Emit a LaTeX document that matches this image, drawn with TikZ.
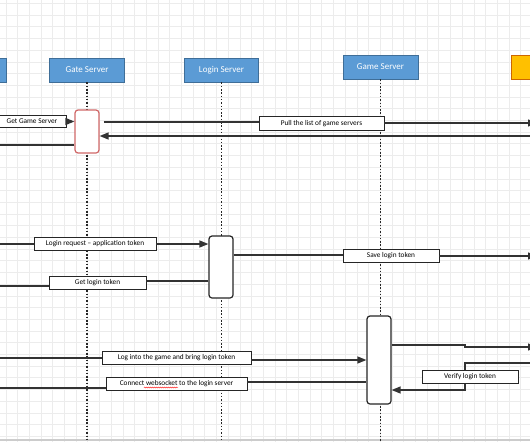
\documentclass[tikz,border=0pt]{standalone}
\usepackage{fontspec}
\setmainfont{Carlito}
\usepackage{xcolor}
\usepackage{tikz}
\usetikzlibrary{arrows.meta,positioning,calc,decorations.pathmorphing}
\definecolor{hdrblue}{HTML}{5B9BD5}
\definecolor{hdredge}{HTML}{3F6E98}
\definecolor{hdrorange}{HTML}{FFC000}
\definecolor{gridgray}{HTML}{ECECEC}
\definecolor{actred}{HTML}{D06868}
\tikzset{
  actor/.style={rectangle, draw=hdredge, fill=hdrblue, line width=0.9pt,
                text=white, font=\fontsize{9}{10}\selectfont,
                minimum width=75pt, minimum height=24pt, inner sep=1pt},
  actbox/.style={rectangle, draw=black!85, line width=1.2pt, rounded corners=3pt,
                 fill=white, minimum width=24pt},
  msg/.style={rectangle, draw=black!85, line width=0.8pt, fill=white,
              font=\fontsize{7.3}{8}\selectfont, minimum height=13pt, inner sep=1pt},
  life/.style={line width=1.7pt, dash pattern=on 1.5pt off 1.8pt, black!85},
  wire/.style={line width=1.3pt, black!80},
  fl/.style={wire, -{Triangle[length=9pt,width=7pt]}},
  gridln/.style={gridgray, line width=0.6pt},
  spell/.style={red, line width=0.4pt, decorate,
                decoration={snake, amplitude=0.55pt, segment length=2pt}},
}

\begin{document}
\begin{tikzpicture}[x=1pt, y=-1pt]
\useasboundingbox (0,0) rectangle (530,442);
\fill[white] (0,0) rectangle (530,442);
\foreach \gx in {5.8,17.5,...,530} \draw[gridln] (\gx,0) -- (\gx,442);
\foreach \gy in {3.3,15,...,442} \draw[gridln] (0,\gy) -- (530,\gy);
\draw[gray!40, line width=2pt] (0,440) -- (530,440);
% free ends off the page
\coordinate (W) at (-20,0);
\coordinate (E) at (537,0);
\coordinate (S) at (0,442);
\coordinate (J) at (465,0);
% actors
\node[actor] (cli) at (-31,70) {};
\node[actor] (gate) at (87,70) {Gate Server};
\node[actor, minimum width=74pt] (login) at (221.5,70) {Login Server};
\node[actor] (game) at (380.5,67) {Game Server};
\node[actor, draw=orange!80!black, fill=hdrorange] (ext) at (549,67) {};
% lifelines
\draw[life] (gate.south) -- (gate.south |- S);
\draw[life] (login.south) -- (login.south |- S);
\draw[life] (game.south) -- (game.south |- S);
% activations
\node[actbox, draw=actred, minimum height=43pt] (ga) at (87,131.5) {};
\node[actbox, minimum height=62pt] (la) at (221,267) {};
\node[actbox, minimum height=88pt] (gma) at (379,360) {};
% gate server
\node[msg, minimum width=68pt, minimum height=12pt] (m1) at (32,121.5) {Get Game Server};
\draw[wire] (W |- m1) -- (m1);
\draw[fl] (m1) -- (ga.west |- m1);
\node[msg, minimum width=125pt, minimum height=14pt] (m2) at (321.5,123.5) {Pull the list of game servers};
\draw[wire, shorten <=4pt] (ga.east |- 0,122) -- (m2.west |- 0,122);
\draw[fl] (m2.east |- 0,123) -- (E |- 0,123);
\draw[fl] (E |- 0,136) -- (ga.east |- 0,136);
\draw[wire] (ga.west |- 0,145) -- (W |- 0,145);
% login server
\node[msg, minimum width=122pt] (m5) at (95,244) {Login request – application token};
\draw[wire] (W |- m5) -- (m5);
\draw[fl] (m5) -- (la.west |- m5);
\node[msg, minimum width=97pt] (m6) at (97.5,282.5) {Get login token};
\draw[wire] (la.west |- 0,281) -- (m6.east |- 0,281);
\draw[wire] (m6.west |- 0,286) -- (W |- 0,286);
\node[msg, minimum width=96pt] (m7) at (391,255.5) {Save login token};
\draw[wire] (la.east |- 0,255) -- (m7.west |- 0,255);
\draw[fl] (m7.east |- 0,256) -- (E |- 0,256);
% game server
\draw[fl] (gma.east |- 0,345) -- (J |- 0,345) -- (J |- 0,347) -- (E |- 0,347);
\draw[fl] (E |- 0,363) -- (J |- 0,363) -- (J |- 0,390) -- (gma.east |- 0,390);
\node[msg, minimum width=96pt] (m9) at (470,376.5) {Verify login token};
\node[msg, minimum width=149pt] (m10) at (176.5,358) {Log into the game and bring login token};
\draw[wire] (W |- 0,358) -- (m10.west |- 0,358);
\draw[fl] (m10.east |- 0,360) -- (gma.west |- 0,360);
\node[msg, minimum width=141pt] (m11) at (176.5,383.5) {Connect websocket to the login server};
\draw[spell] ($(m11.center)+(-32.5,4)$) -- ($(m11.center)+(1.5,4)$);
\draw[wire] (W |- 0,388) -- (m11.west |- 0,388);
\draw[wire] (m11.east |- 0,382) -- (gma.west |- 0,382);
\end{tikzpicture}
\end{document}
